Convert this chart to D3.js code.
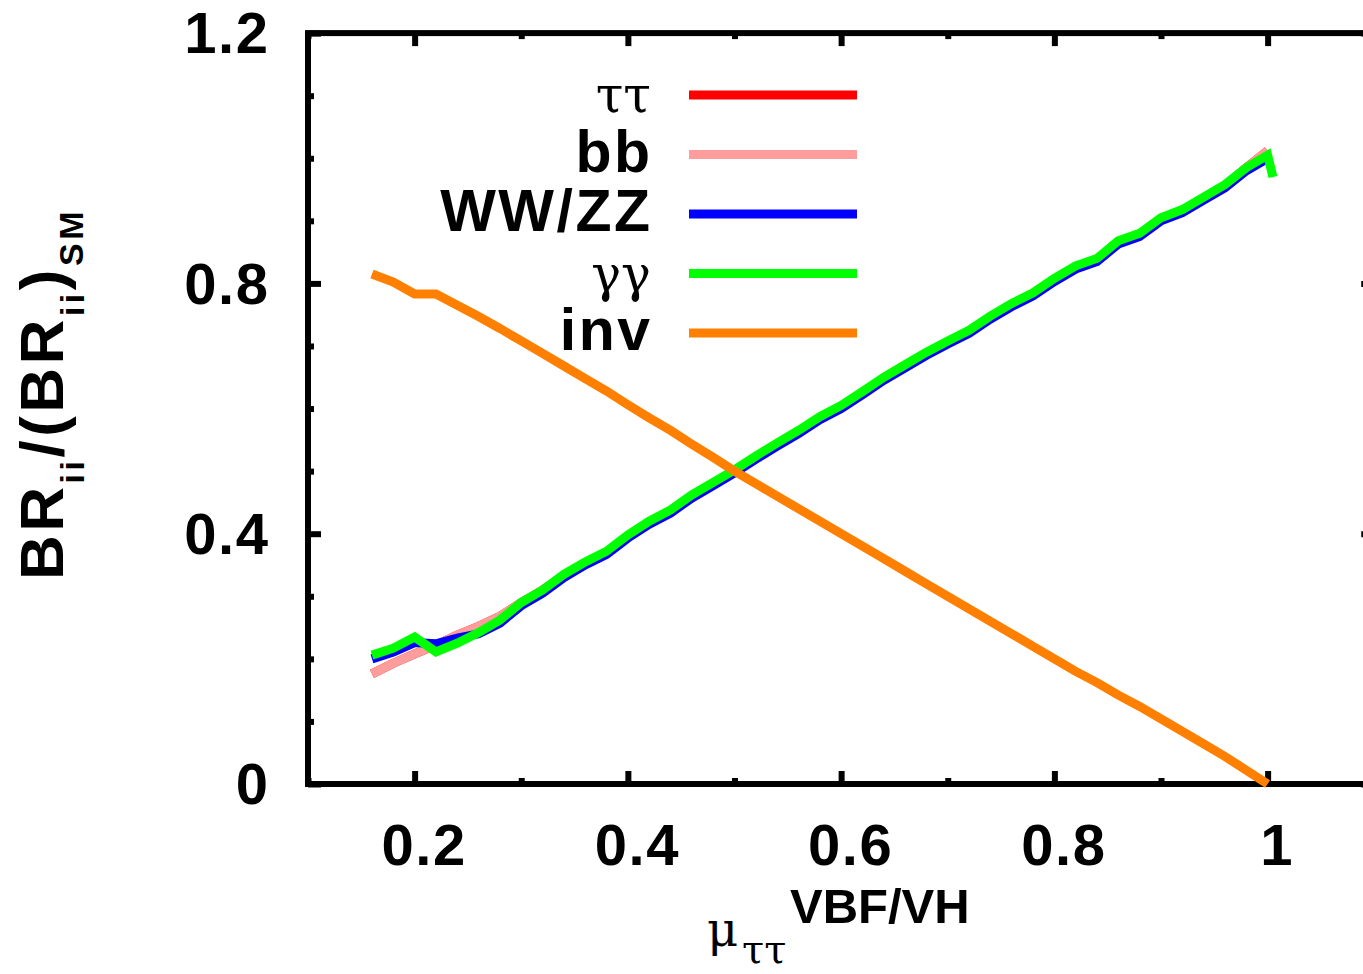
<!DOCTYPE html>
<html><head><meta charset="utf-8">
<script src="https://cdn.jsdelivr.net/npm/d3@7"></script>
<style>body{margin:0;background:#fff} svg{display:block}</style>
</head><body>
<svg id="c" width="1363" height="974"></svg>
<script>
// ---- data ----
const mu = [0.16,0.18,0.20,0.22,0.24,0.26,0.28,0.30,0.32,0.34,0.36,0.38,0.40,0.42,0.44,0.46,0.48,0.50,0.52,0.54,0.56,0.58,0.60,0.62,0.64,0.66,0.68,0.70,0.72,0.74,0.76,0.78,0.80,0.82,0.84,0.86,0.88,0.90,0.92,0.94,0.96,0.98,1.00];
const tautau = [0.176,0.193,0.208,0.222,0.238,0.252,0.268,0.290,0.310,0.333,0.353,0.370,0.396,0.418,0.436,0.460,0.480,0.500,0.522,0.543,0.563,0.585,0.603,0.625,0.648,0.668,0.688,0.706,0.723,0.746,0.766,0.783,0.806,0.826,0.838,0.866,0.878,0.903,0.916,0.936,0.956,0.985,1.012];
const bb = [0.176,0.193,0.208,0.222,0.238,0.252,0.268,0.290,0.310,0.333,0.353,0.370,0.396,0.418,0.436,0.460,0.480,0.500,0.522,0.543,0.563,0.585,0.603,0.625,0.648,0.668,0.688,0.706,0.723,0.746,0.766,0.783,0.806,0.826,0.838,0.866,0.878,0.903,0.916,0.936,0.956,0.985,1.012];
const wwzz = [0.200,0.211,0.226,0.224,0.233,0.240,0.257,0.285,0.305,0.330,0.350,0.367,0.393,0.415,0.433,0.457,0.477,0.497,0.519,0.540,0.560,0.582,0.600,0.622,0.645,0.665,0.685,0.703,0.720,0.743,0.763,0.780,0.803,0.823,0.835,0.863,0.875,0.900,0.913,0.933,0.953,0.980,1.000];
const gamgam = [0.206,0.217,0.235,0.211,0.225,0.242,0.262,0.290,0.310,0.335,0.355,0.372,0.398,0.420,0.438,0.462,0.482,0.502,0.524,0.545,0.565,0.587,0.605,0.627,0.650,0.670,0.690,0.708,0.725,0.748,0.768,0.785,0.808,0.828,0.840,0.868,0.880,0.905,0.918,0.938,0.958,0.985,1.005];
const gamgamTailMu = [1.005];
const gamgamTailVal = [0.970];
const inv = [0.815,0.802,0.783,0.783,0.765,0.747,0.728,0.708,0.688,0.668,0.648,0.628,0.606,0.585,0.565,0.543,0.522,0.500,0.480,0.460,0.440,0.420,0.400,0.380,0.360,0.340,0.320,0.300,0.280,0.260,0.240,0.220,0.200,0.180,0.162,0.142,0.124,0.104,0.084,0.064,0.044,0.022,0.000];

const seriesNames = ["ττ","bb","WW/ZZ","γγ","inv"];
const seriesColors = ["#ff0000","#ff9c9c","#0000ff","#00ff00","#ff8000"];
const xMajor = [0.2,0.4,0.6,0.8,1.0];
const xMinor = [0.1,0.3,0.5,0.7,0.9,1.1];
const xTickLabels = ["0.2","0.4","0.6","0.8","1"];
const yMajor = [0,0.4,0.8,1.2];
const yMinor = [0.1,0.2,0.3,0.5,0.6,0.7,0.9,1.0,1.1];
const yTickLabels = ["0","0.4","0.8","1.2"];

// ---- drawing ----
const svg = d3.select("#c");
const x = d3.scaleLinear().domain([0.1,1.1]).range([308,1374.25]);
const y = d3.scaleLinear().domain([0,1.2]).range([784,33.1]);
const SANS = "'Liberation Sans', Arial, Helvetica, sans-serif";
const SERIF = "'DejaVu Serif', 'Liberation Serif', serif";

function styleAxis(g){
  g.select(".domain").remove();
  g.selectAll(".tick line").attr("stroke","#000").attr("stroke-width",6);
}
// bottom
svg.append("g").attr("transform",`translate(0,${y(0)})`)
  .call(d3.axisBottom(x).tickValues(xMajor).tickSize(-13).tickPadding(40).tickFormat((d,i)=>xTickLabels[i]))
  .call(styleAxis)
  .call(g=>g.selectAll("text").attr("font-family",SANS).attr("font-weight","bold").attr("font-size",58).attr("fill","#000").attr("letter-spacing","1.5px").attr("dx",9));
svg.append("g").attr("transform",`translate(0,${y(0)})`)
  .call(d3.axisBottom(x).tickValues(xMinor).tickSize(-6).tickFormat(""))
  .call(styleAxis);
// top
svg.append("g").attr("transform",`translate(0,${y(1.2)})`)
  .call(d3.axisTop(x).tickValues(xMajor).tickSize(-13).tickFormat(""))
  .call(styleAxis);
svg.append("g").attr("transform",`translate(0,${y(1.2)})`)
  .call(d3.axisTop(x).tickValues(xMinor).tickSize(-6).tickFormat(""))
  .call(styleAxis);
// left
svg.append("g").attr("transform",`translate(${x(0.1)},0)`)
  .call(d3.axisLeft(y).tickValues(yMajor).tickSize(-13).tickPadding(40).tickFormat((d,i)=>yTickLabels[i]))
  .call(styleAxis)
  .call(g=>g.selectAll("text").attr("font-family",SANS).attr("font-weight","bold").attr("font-size",58).attr("fill","#000").attr("letter-spacing","1.5px").attr("dx",1.5).attr("dy","0.34em"));
svg.append("g").attr("transform",`translate(${x(0.1)},0)`)
  .call(d3.axisLeft(y).tickValues(yMinor).tickSize(-6).tickFormat(""))
  .call(styleAxis);
// right
svg.append("g").attr("transform",`translate(${x(1.1)},0)`)
  .call(d3.axisRight(y).tickValues(yMajor).tickSize(-13).tickFormat(""))
  .call(styleAxis);

// frame
svg.append("rect").attr("x",x(0.1)).attr("y",y(1.2)).attr("width",x(1.1)-x(0.1)).attr("height",y(0)-y(1.2))
  .attr("fill","none").attr("stroke","#000").attr("stroke-width",6);

// lines
const line = d3.line().x(d=>x(d[0])).y(d=>y(d[1]));
const seriesData = [
  mu.map((m,i)=>[m,tautau[i]]),
  mu.map((m,i)=>[m,bb[i]]),
  mu.map((m,i)=>[m,wwzz[i]]),
  mu.map((m,i)=>[m,gamgam[i]]).concat(gamgamTailMu.map((m,i)=>[m,gamgamTailVal[i]])),
  mu.map((m,i)=>[m,inv[i]])
];
seriesData.forEach((d,i)=>{
  svg.append("path").attr("d",line(d)).attr("fill","none")
    .attr("stroke",seriesColors[i]).attr("stroke-width",9)
    .attr("stroke-linejoin","miter").attr("stroke-linecap","butt");
});

// legend
const legY = d3.scalePoint().domain(seriesNames).range([95,333]);
seriesNames.forEach((n,i)=>{
  const ly = legY(n);
  svg.append("line").attr("x1",689).attr("x2",857).attr("y1",ly).attr("y2",ly)
    .attr("stroke",seriesColors[i]).attr("stroke-width",9);
  const greek = (n==="ττ"||n==="γγ");
  svg.append("text").attr("x",greek?651:652.5).attr("y",ly+17).attr("text-anchor","end")
    .attr("font-family",greek?SERIF:SANS).attr("font-weight",greek?"normal":"bold")
    .attr("font-size",greek?50:59).attr("letter-spacing",greek?"0px":"2.5px").attr("fill","#000").text(n);
});

// x title
const xt = svg.append("g");
xt.append("text").attr("x",707).attr("y",946).attr("font-family",SERIF).attr("font-size",48).attr("fill","#000").text("μ");
xt.append("text").attr("x",742).attr("y",963).attr("font-family",SERIF).attr("font-size",40).attr("fill","#000").text("ττ");
xt.append("text").attr("x",790).attr("y",923).attr("font-family",SANS).attr("font-weight","bold").attr("font-size",49).attr("fill","#000").text("VBF/VH");

// y title
const yt = svg.append("text").attr("transform","translate(63,580) rotate(-90)")
  .attr("font-family",SANS).attr("font-weight","bold").attr("font-size",62).attr("letter-spacing","3.5px").attr("fill","#000");
yt.append("tspan").text("BR");
yt.append("tspan").attr("font-size",34).attr("dy",21).text("ii");
yt.append("tspan").attr("dy",-21).text("/(BR");
yt.append("tspan").attr("font-size",34).attr("dy",21).text("ii");
yt.append("tspan").attr("dy",-21).text(")");
yt.append("tspan").attr("font-size",34).attr("dy",20).text("SM");
</script>
</body></html>
